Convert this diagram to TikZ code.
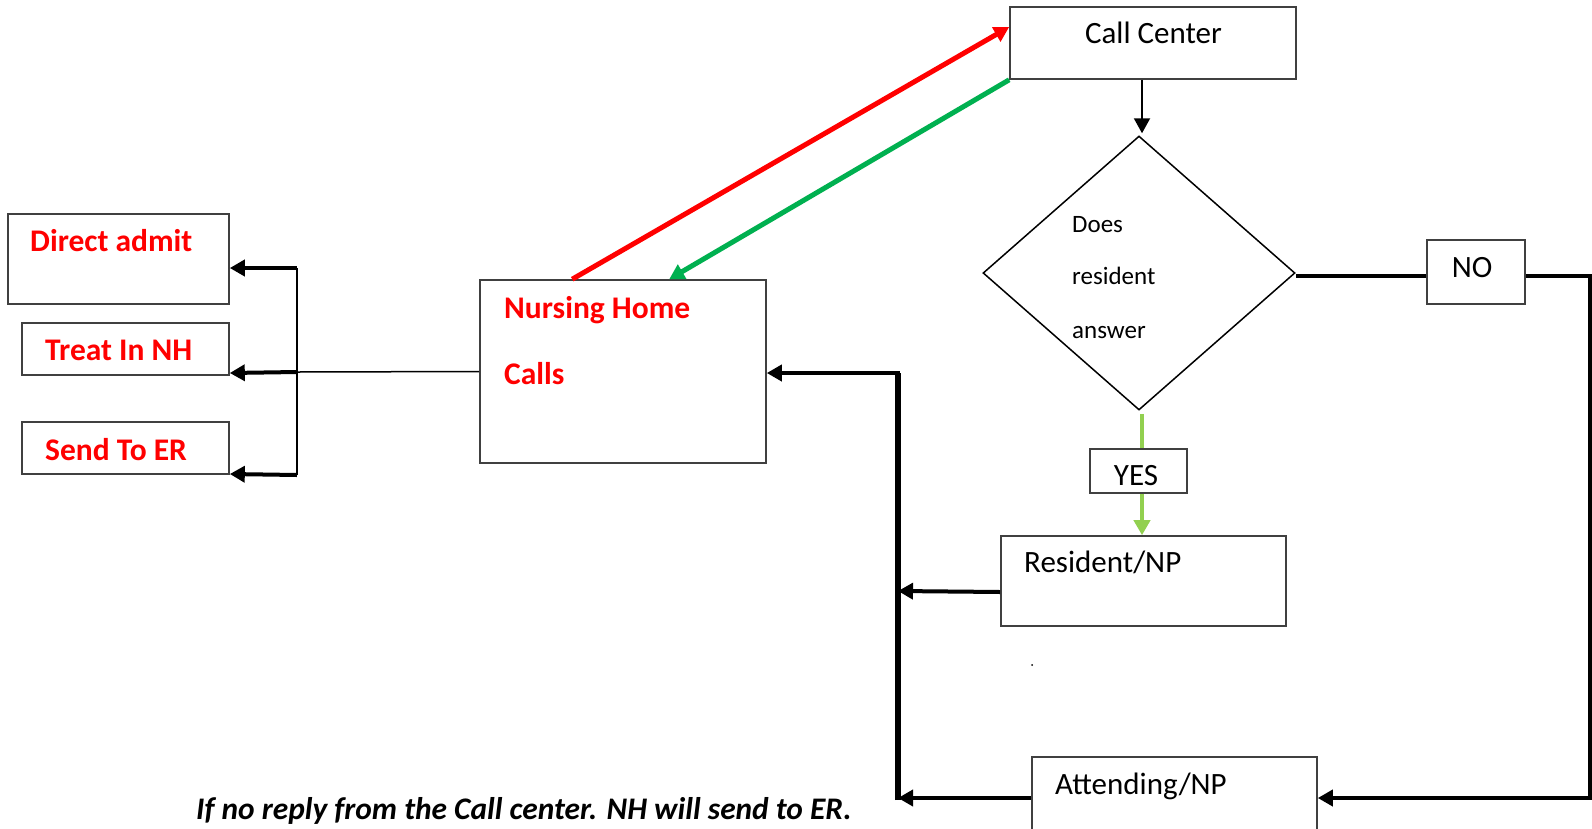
\documentclass[tikz,border=0pt]{standalone}
\usepackage{fontspec}
\setmainfont{Carlito}
\usetikzlibrary{shapes.geometric,arrows.meta}
\definecolor{boxgray}{HTML}{404040}
\definecolor{darkgreen}{HTML}{00B050}
\definecolor{lightgreen}{HTML}{92D050}
\definecolor{pured}{HTML}{FF0000}
\tikzset{
  box/.style={draw=boxgray,line width=1.6pt,rectangle,inner sep=0pt},
  rtext/.style={text=pured,font=\fontsize{31.5}{36}\selectfont\bfseries,inner sep=0pt,anchor=base west},
  btext/.style={text=black,font=\fontsize{31}{36}\selectfont,inner sep=0pt},
  dtext/.style={text=black,font=\fontsize{25}{30}\selectfont,inner sep=0pt,anchor=base west},
  tip/.style={-{Triangle[length=15pt,width=16pt]}},
  thick3/.style={line width=4pt,black},
}
\begin{document}
\begin{tikzpicture}[x=1pt,y=-1pt]
\useasboundingbox (0,0) rectangle (1592,828);
\clip (0,0) rectangle (1592,828);
\fill[white] (0,0) rectangle (1592,828);
% boxes
\node[box,minimum width=286pt,minimum height=72pt] (cc) at (1153,43) {};
\node[draw=black,line width=1.5pt,diamond,inner sep=0pt,minimum width=312pt,minimum height=274pt] (dia) at (1139,273) {};
\node[box,minimum width=98pt,minimum height=64pt] (no) at (1476,272) {};
\node[box,minimum width=97pt,minimum height=44pt] (yes) at (1138.5,471) {};
\node[box,minimum width=285pt,minimum height=90pt] (res) at (1143.5,581) {};
\node[box,minimum width=285pt,minimum height=90pt] (att) at (1174.5,802) {};
\node[box,minimum width=286pt,minimum height=183pt] (nh) at (623,371.5) {};
\node[box,minimum width=221pt,minimum height=90pt] (da) at (118.5,259) {};
\node[box,minimum width=207pt,minimum height=52pt] (tr) at (125.5,349) {};
\node[box,minimum width=207pt,minimum height=52pt] (er) at (125.5,448) {};
% texts
\node[btext,anchor=base] (tcc) at (1153.5,43) {Call Center};
\node[dtext] (t1) at (1072,232) {Does};
\node[dtext] (t2) at (1072,284) {resident};
\node[dtext] (t3) at (1072,338) {answer};
\node[btext,anchor=base] (tno) at (1472,277) {NO};
\node[btext,anchor=base] (tyes) at (1136,485) {YES};
\node[btext,anchor=base west] (tres) at (1024,572) {Resident/NP};
\node[btext,anchor=base west] (tatt) at (1055,794) {Attending/NP};
\node[rtext] (tnh1) at (504,318) {Nursing Home};
\node[rtext] (tnh2) at (504,384) {Calls};
\node[rtext] (tda) at (30,251) {Direct admit};
\node[rtext] (ttr) at (45,360) {Treat In NH};
\node[rtext] (ter) at (45,460) {Send To ER};
\node[text=black,font=\fontsize{31.4}{36}\selectfont\bfseries\itshape,inner sep=0pt,anchor=base west] (foot) at (196,819) {If no reply from the Call center. NH will send to ER.};
\fill (1032,665) circle (1pt);
% coordinates
\coordinate (nR) at (1590,276);
\coordinate (nB) at (1590,798);
\coordinate (vT) at (898,373);
\coordinate (vR) at (898,591);
\coordinate (vB) at (898,798);
\coordinate (lT) at (297,268);
\coordinate (lM) at (297,372);
\coordinate (lB) at (297,475);
\coordinate (gx) at (1142,0);
% connectors
\draw[pured,line width=5pt,tip] ([xshift=93pt]nh.north west) -- ([yshift=16pt]cc.west);
\draw[darkgreen,line width=5pt,tip] (cc.south west) -- ([xshift=190pt]nh.north west);
\draw[black,line width=2pt,tip] (gx |- cc.south) -- ([yshift=2pt]gx |- dia.north);
\draw[thick3] ([yshift=-3pt]dia.east) -- ([yshift=-4pt]no.west);
\draw[thick3,tip] ([yshift=-4pt]no.east) -- (nR) -- (nB) -- ([yshift=4pt]att.east);
\draw[lightgreen,line width=4.5pt] ([yshift=-3pt]gx |- dia.south) -- (gx |- yes.north);
\draw[lightgreen,line width=4.5pt,tip] (gx |- yes.south) -- (gx |- res.north);
\draw[thick3,tip] ([yshift=-11pt]res.west) -- (vR);
\draw[thick3,tip] ([yshift=4pt]att.west) -- (vB);
\draw[line width=5.5pt,black] ([yshift=-2pt]vB) -- (vT);
\draw[thick3,tip] ([xshift=2pt]vT) -- ([yshift=-1.5pt]nh.east);
\draw[black,line width=1.5pt] (nh.west) -- (lM);
\draw[black,line width=2pt] (lT) -- (lB);
\draw[thick3,tip] (lT) -- ([yshift=-9pt]da.east);
\draw[thick3,tip] (lM) -- ([yshift=-24pt]tr.east);
\draw[thick3,tip] (lB) -- ([yshift=-26pt]er.east);
\end{tikzpicture}
\end{document}
